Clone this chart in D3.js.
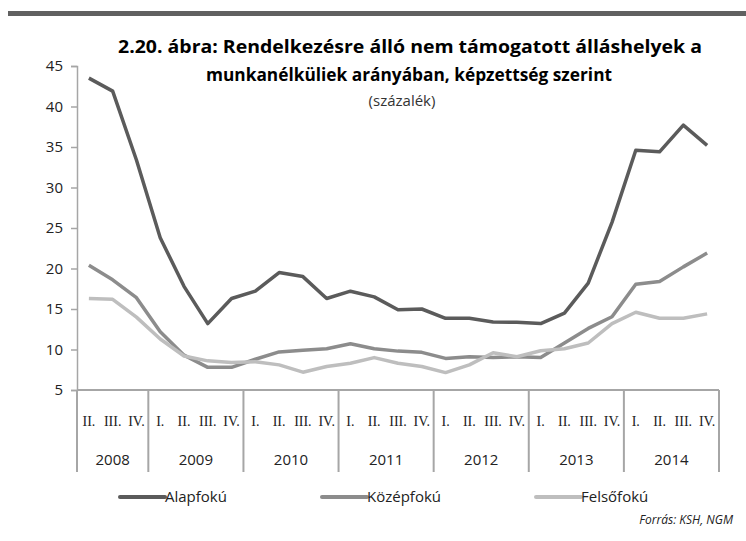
<!DOCTYPE html>
<html>
<head>
<meta charset="utf-8">
<script src="https://cdn.jsdelivr.net/npm/d3@7"></script>
<style>
  html, body { margin: 0; padding: 0; background: #fff; }
  svg { display: block; font-family: "Open Sans", "Noto Sans", sans-serif; }
</style>
</head>
<body>
<div id="chart"></div>
<script>
// Negyedévek és évek
const years = ['2008', '2009', '2010', '2011', '2012', '2013', '2014'];
const yearQuarters = [
  ['II.', 'III.', 'IV.'],
  ['I.', 'II.', 'III.', 'IV.'],
  ['I.', 'II.', 'III.', 'IV.'],
  ['I.', 'II.', 'III.', 'IV.'],
  ['I.', 'II.', 'III.', 'IV.'],
  ['I.', 'II.', 'III.', 'IV.'],
  ['I.', 'II.', 'III.', 'IV.']
];

// Sorozatok (százalék)
const alapfoku = [43.5, 41.9, 33.4, 23.8, 17.8, 13.2, 16.3, 17.2, 19.5, 19.0, 16.3, 17.2, 16.5, 14.9, 15.0, 13.85, 13.85, 13.4, 13.35, 13.2, 14.5, 18.2, 25.7, 34.6, 34.4, 37.7, 35.2];
const kozepfoku = [20.4, 18.6, 16.4, 12.2, 9.3, 7.8, 7.8, 8.8, 9.7, 9.9, 10.1, 10.7, 10.1, 9.8, 9.65, 8.9, 9.1, 9.0, 9.1, 9.0, 10.8, 12.6, 14.05, 18.05, 18.4, 20.2, 21.9];
const felsofoku = [16.3, 16.2, 14.0, 11.3, 9.2, 8.6, 8.4, 8.5, 8.1, 7.2, 7.9, 8.3, 9.0, 8.3, 7.9, 7.15, 8.1, 9.6, 9.1, 9.85, 10.1, 10.8, 13.2, 14.6, 13.85, 13.85, 14.4];

const yTicks = [5, 10, 15, 20, 25, 30, 35, 40, 45];

const series = [
  { name: 'Alapfokú', values: alapfoku, color: '#5b5b5b' },
  { name: 'Középfokú', values: kozepfoku, color: '#8c8c8c' },
  { name: 'Felsőfokú', values: felsofoku, color: '#bebebe' }
];

const W = 746, H = 541;
const m = { l: 77, r: 27, t: 66, b: 151 };
const axisColor = '#a6a6a6';

// kategória kulcsok: "2008-II." ...
const cats = [];
years.forEach((y, i) => yearQuarters[i].forEach(q => cats.push({ key: y + '-' + q, year: y, q })));

const svg = d3.select('#chart').append('svg')
  .attr('width', W)
  .attr('height', H);

// felső sáv
svg.append('rect')
  .attr('x', 8).attr('y', 11)
  .attr('width', W - 8).attr('height', 5)
  .attr('fill', '#616161');

// cím
const title = svg.append('g').attr('text-anchor', 'middle');
title.append('text')
  .attr('x', 410).attr('y', 53)
  .attr('font-size', 17).attr('font-weight', 700)
  .attr('textLength', 584).attr('lengthAdjust', 'spacingAndGlyphs')
  .text('2.20. ábra: Rendelkezésre álló nem támogatott álláshelyek a');
title.append('text')
  .attr('x', 409).attr('y', 81)
  .attr('font-size', 17).attr('font-weight', 700)
  .attr('textLength', 406).attr('lengthAdjust', 'spacingAndGlyphs')
  .text('munkanélküliek arányában, képzettség szerint');
title.append('text')
  .attr('x', 402).attr('y', 106)
  .attr('font-size', 15).attr('fill', '#333')
  .text('(százalék)');

const x = d3.scaleBand()
  .domain(cats.map(d => d.key))
  .range([m.l, W - m.r])
  .padding(0);

const y = d3.scaleLinear()
  .domain([5, 45])
  .range([H - m.b, m.t]);

// y tengely
const yAxis = svg.append('g')
  .attr('transform', `translate(${m.l},0)`)
  .call(d3.axisLeft(y).tickValues(yTicks).tickSize(6).tickPadding(8).tickFormat(d3.format('d')));
yAxis.select('.domain').attr('stroke', axisColor).attr('stroke-width', 1.5);
yAxis.selectAll('.tick line').attr('stroke', axisColor).attr('stroke-width', 1.5);
yAxis.selectAll('.tick text')
  .attr('font-size', 15)
  .attr('fill', '#222')
  .attr('font-family', '"Open Sans", sans-serif');

// x tengely: vízszintes vonal + év-elválasztók
const x0 = y(5);
const sepBottom = x0 + 82;
svg.append('line')
  .attr('x1', m.l).attr('x2', W - m.r)
  .attr('y1', x0).attr('y2', x0)
  .attr('stroke', axisColor).attr('stroke-width', 2);

const yearStarts = [];
let idx = 0;
years.forEach((yr, i) => {
  const first = cats[idx].key;
  const last = cats[idx + yearQuarters[i].length - 1].key;
  yearStarts.push({ yr, x1: x(first), x2: x(last) + x.bandwidth() });
  idx += yearQuarters[i].length;
});

const sepXs = [yearStarts[0].x1, ...yearStarts.map(d => d.x2)];
svg.append('g').selectAll('line')
  .data(sepXs)
  .join('line')
  .attr('x1', d => d).attr('x2', d => d)
  .attr('y1', x0).attr('y2', sepBottom)
  .attr('stroke', axisColor).attr('stroke-width', 2);

// negyedév címkék
svg.append('g').selectAll('text')
  .data(cats)
  .join('text')
  .attr('x', d => x(d.key) + x.bandwidth() / 2)
  .attr('y', x0 + 36)
  .attr('text-anchor', 'middle')
  .attr('font-family', '"Liberation Serif", "DejaVu Serif", serif')
  .attr('font-size', 14)
  .attr('fill', '#222')
  .text(d => d.q);

// év címkék
svg.append('g').selectAll('text')
  .data(yearStarts)
  .join('text')
  .attr('x', d => (d.x1 + d.x2) / 2)
  .attr('y', x0 + 75)
  .attr('text-anchor', 'middle')
  .attr('font-size', 15)
  .attr('fill', '#222')
  .text(d => d.yr);

// vonalak
const line = d3.line()
  .x((d, i) => x(cats[i].key) + x.bandwidth() / 2)
  .y(d => y(d));

svg.append('g').selectAll('path')
  .data(series)
  .join('path')
  .attr('d', d => line(d.values))
  .attr('fill', 'none')
  .attr('stroke', d => d.color)
  .attr('stroke-width', 3.5)
  .attr('stroke-linejoin', 'round');

// jelmagyarázat
const legendX = [120, 322, 536];
const legend = svg.append('g').selectAll('g')
  .data(series)
  .join('g')
  .attr('transform', (d, i) => `translate(${legendX[i]},497)`);
legend.append('line')
  .attr('x1', 0).attr('x2', 45)
  .attr('stroke', d => d.color)
  .attr('stroke-width', 4)
  .attr('stroke-linecap', 'round');
legend.append('text')
  .attr('x', 45).attr('y', 5)
  .attr('font-size', 15)
  .attr('fill', '#222')
  .text(d => d.name);

// forrás
svg.append('text')
  .attr('x', 733).attr('y', 524)
  .attr('text-anchor', 'end')
  .attr('font-size', 12)
  .attr('font-style', 'italic')
  .attr('fill', '#222')
  .text('Forrás: KSH, NGM');
</script>
</body>
</html>
